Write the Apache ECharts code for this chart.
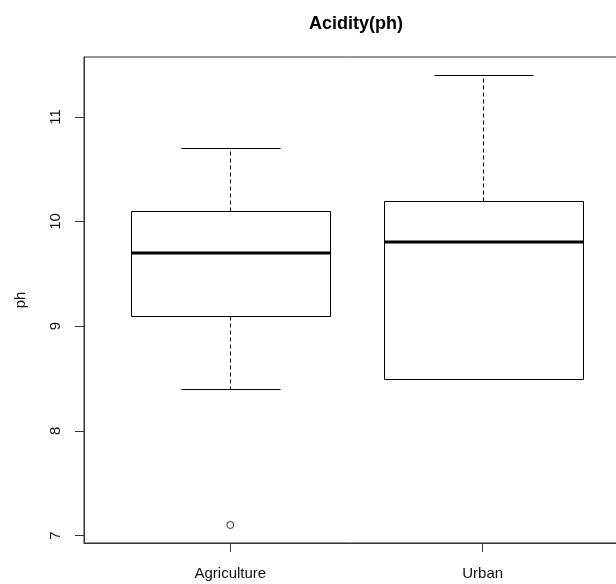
<!DOCTYPE html>
<html>
<head>
<meta charset="utf-8">
<script src="https://cdn.jsdelivr.net/npm/echarts@6/dist/echarts.min.js"></script>
<style>
  html, body { margin: 0; padding: 0; background: #fff; }
  #main { width: 616px; height: 584px; }
</style>
</head>
<body>
<div id="main"></div>
<script>
// boxplot stats
var categories = ['Agriculture', 'Urban'];
var lowerWhisker = [8.4, 8.5];
var q1 = [9.1, 8.5];
var median = [9.7, 9.8];
var q3 = [10.1, 10.2];
var upperWhisker = [10.7, 11.4];
var outliers = [[1, 7.1]];
var yTicks = [7, 8, 9, 10, 11];

// R style limits: 4% padding
var lo = 7.1, hi = 11.4;
var yMin = lo - 0.04 * (hi - lo);
var yMax = hi + 0.04 * (hi - lo);
var xMin = 0.5 - 0.04 * 2, xMax = 2.5 + 0.04 * 2;

var boxData = categories.map(function (c, i) {
  return [i + 1, lowerWhisker[i], q1[i], median[i], q3[i], upperWhisker[i]];
});

var font = 'Liberation Sans, Arial, sans-serif';
var chart = echarts.init(document.getElementById('main'), null, { renderer: 'canvas' });

function px(v) { return Math.round(v) + 0.5; }

function renderBox(params, api) {
  var x = api.value(0);
  var pLo = api.coord([x, api.value(1)]);
  var pQ1 = api.coord([x, api.value(2)]);
  var pMd = api.coord([x, api.value(3)]);
  var pQ3 = api.coord([x, api.value(4)]);
  var pHi = api.coord([x, api.value(5)]);
  var half = api.size([0.79, 0])[0] / 2;
  var cx = px(pMd[0]);
  var line = { stroke: '#000', lineWidth: 1 };
  var dash = { stroke: '#000', lineWidth: 1, lineDash: [4, 3] };
  var kids = [];
  // whiskers + staples
  if (pHi[1] < pQ3[1]) {
    kids.push({ type: 'line', shape: { x1: cx, y1: px(pQ3[1]), x2: cx, y2: px(pHi[1]) }, style: dash });
    kids.push({ type: 'line', shape: { x1: px(cx - half / 2), y1: px(pHi[1]), x2: px(cx + half / 2), y2: px(pHi[1]) }, style: line });
  }
  if (pLo[1] > pQ1[1]) {
    kids.push({ type: 'line', shape: { x1: cx, y1: px(pQ1[1]), x2: cx, y2: px(pLo[1]) }, style: dash });
    kids.push({ type: 'line', shape: { x1: px(cx - half / 2), y1: px(pLo[1]), x2: px(cx + half / 2), y2: px(pLo[1]) }, style: line });
  }
  // box
  kids.push({
    type: 'rect',
    shape: { x: px(cx - half), y: px(pQ3[1]), width: Math.round(2 * half), height: Math.round(pQ1[1] - pQ3[1]) },
    style: { fill: '#fff', stroke: '#000', lineWidth: 1 }
  });
  // thick median
  kids.push({ type: 'line', shape: { x1: px(cx - half), y1: Math.round(pMd[1]), x2: px(cx + half), y2: Math.round(pMd[1]) }, style: { stroke: '#000', lineWidth: 3 } });
  return { type: 'group', children: kids };
}

var option = {
  backgroundColor: '#ffffff',
  animation: false,
  title: {
    text: 'Acidity(ph)',
    left: 351,
    textAlign: 'center',
    top: 10,
    textStyle: { fontFamily: font, fontSize: 18, fontWeight: 'bold', color: '#000' }
  },
  grid: {
    left: 84, top: 57, width: 545, height: 486,
    outerBoundsMode: 'none',
    containLabel: false,
    show: true, borderColor: '#333', borderWidth: 1, backgroundColor: 'transparent'
  },
  xAxis: {
    type: 'value',
    min: xMin, max: xMax,
    splitLine: { show: false },
    axisLine: { show: true, lineStyle: { color: '#333' } },
    axisTick: { show: true, customValues: [1, 2], length: 9, lineStyle: { color: '#333' } },
    axisLabel: {
      customValues: [1, 2],
      margin: 23,
      color: '#111',
      fontFamily: font,
      fontSize: 15,
      formatter: function (v) { return categories[Math.round(v) - 1] || ''; }
    }
  },
  yAxis: {
    type: 'value',
    min: yMin, max: yMax,
    name: 'ph',
    nameLocation: 'middle',
    nameGap: 56,
    nameTextStyle: { fontFamily: font, fontSize: 15, color: '#111' },
    splitLine: { show: false },
    axisLine: { show: true, lineStyle: { color: '#333' } },
    axisTick: { show: true, customValues: yTicks, length: 9, lineStyle: { color: '#333' } },
    axisLabel: {
      customValues: yTicks,
      rotate: 90,
      margin: 21,
      color: '#111',
      fontFamily: font,
      fontSize: 15
    }
  },
  series: [{
    type: 'custom',
    renderItem: renderBox,
    data: boxData,
    encode: { x: 0, y: [1, 2, 3, 4, 5] },
    clip: false
  }, {
    type: 'scatter',
    data: outliers,
    symbol: 'circle',
    symbolSize: 7,
    itemStyle: { color: '#fff', borderColor: '#000', borderWidth: 1 }
  }]
};

chart.setOption(option);
</script>
</body>
</html>
